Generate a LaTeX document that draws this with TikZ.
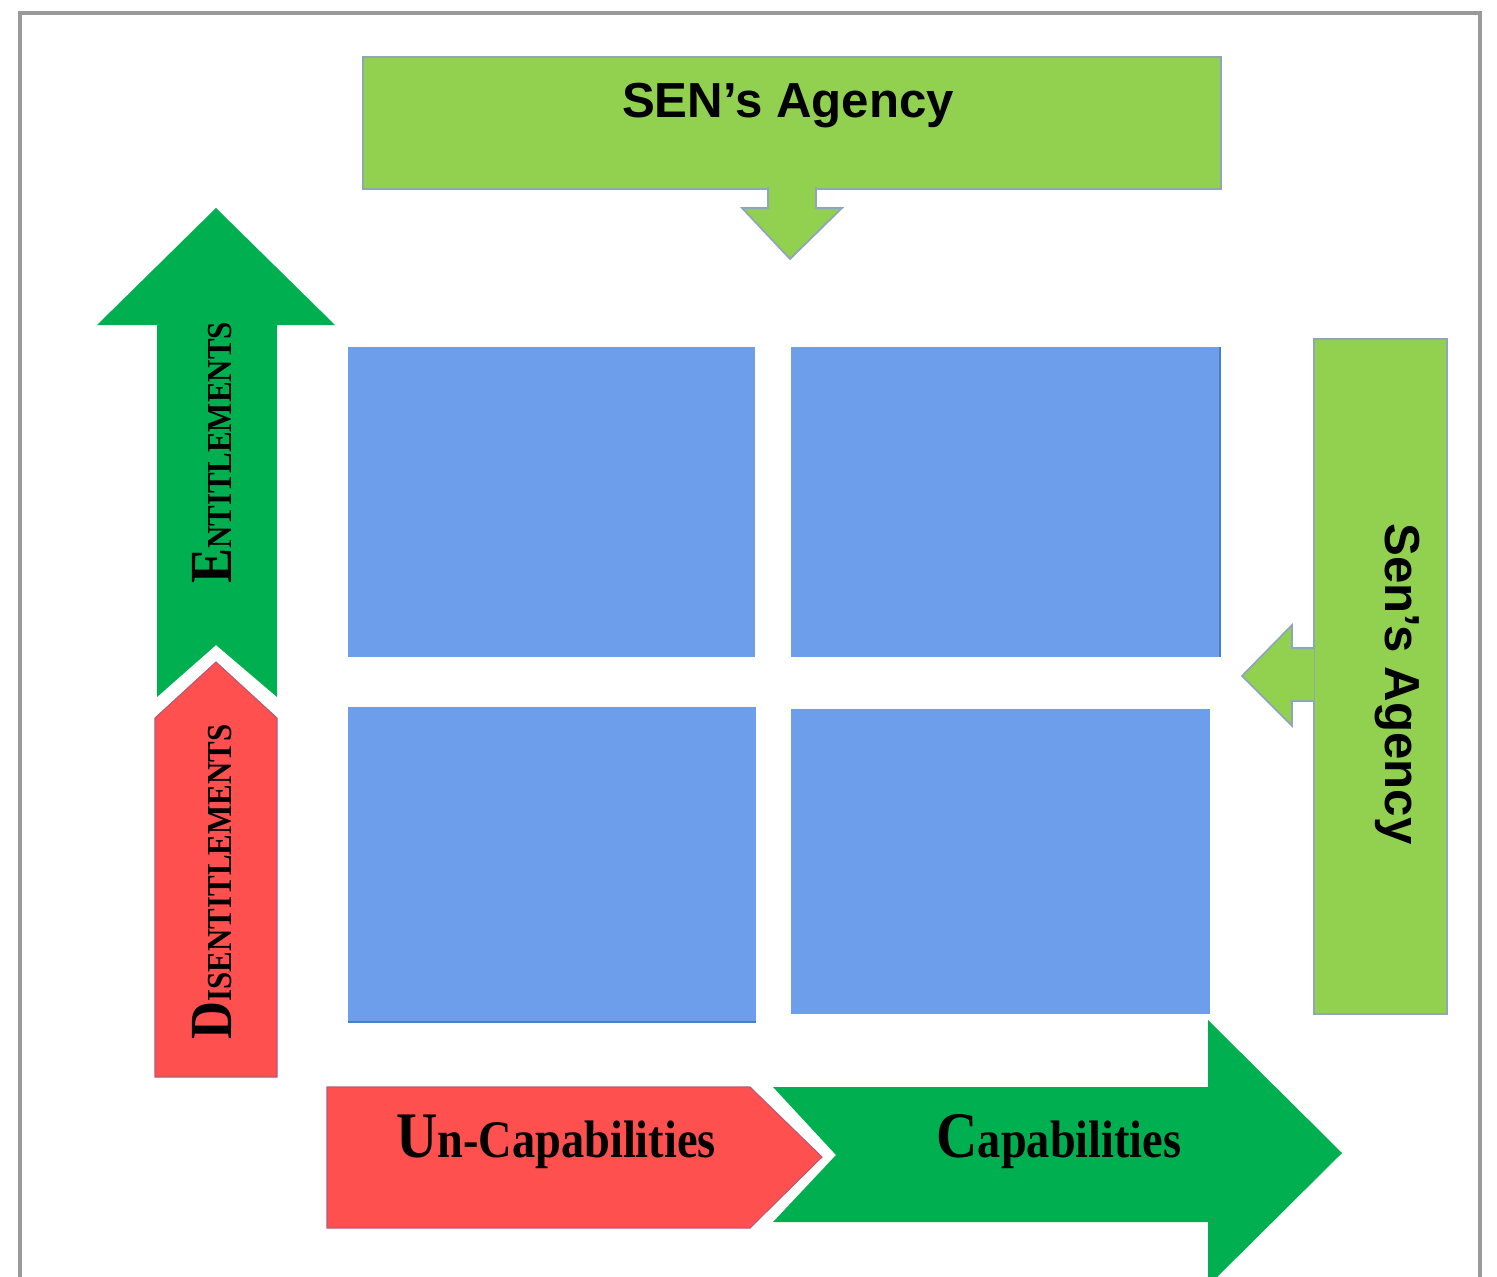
\documentclass[tikz,border=0pt]{standalone}
\usepackage{fontspec}
\setmainfont{Liberation Serif}
\newfontfamily\agencyfont{Liberation Sans}
\definecolor{leafgreen}{HTML}{92D050}
\definecolor{deepgreen}{HTML}{00B050}
\definecolor{warnred}{HTML}{FF5050}
\definecolor{cellblue}{HTML}{6D9EEB}
\definecolor{cellshade}{HTML}{4A7DCC}
\definecolor{edgegray}{HTML}{8FA6B8}
\definecolor{rededge}{HTML}{B85878}
\definecolor{framegray}{HTML}{9A9A9A}
\newcommand\leadletter[1]{{\fontsize{34}{36}\selectfont #1}}
\newcommand\smallletters[1]{{\fontsize{20}{22}\selectfont #1}}
\newcommand\bottomlead[1]{{\fontsize{37}{39}\selectfont #1}}
\newcommand\restletters[1]{{\fontsize{30}{32}\selectfont #1}}
\tikzset{
  cell/.style={rectangle,fill=cellblue,anchor=north west,inner sep=0pt,outer sep=0pt},
  agency/.style={rectangle,fill=leafgreen,draw=edgegray,line width=1pt,anchor=north west,inner sep=0pt},
  pointer/.style={fill=leafgreen,draw=edgegray,line width=1pt,line join=miter},
  redpart/.style={fill=warnred,draw=rededge,line width=0.6pt},
  agencytext/.style={font=\agencyfont\bfseries\fontsize{28}{30}\selectfont,inner sep=0pt},
  axistext/.style={font=\bfseries,inner sep=0pt},
}
\begin{document}
\begin{tikzpicture}[x=0.02cm,y=-0.02cm]
\useasboundingbox (0,0) rectangle (1497,1277);
\clip (0,0) rectangle (1497,1277);
\draw[framegray,line width=2pt] (20,1290) -- (20,13) -- (1480,13) -- (1480,1290);

\draw 	(362,56) node[agency,minimum width=17.16cm,minimum height=2.64cm](topagency){}
  		(1313,338) node[agency,minimum width=2.66cm,minimum height=13.5cm](sideagency){};
\filldraw[pointer] (768,187) -- (768,208) -- (742,208) -- (790,259) -- (842,208) -- (816,208) -- (816,187);
\filldraw[pointer] (1314,648) -- (1292,648) -- (1292,625) -- (1242,676) -- (1292,726) -- (1292,701) -- (1314,701);

\draw 	(348,347) node[cell,minimum width=8.14cm,minimum height=6.2cm](tl){}
		(791,347) node[cell,minimum width=8.58cm,minimum height=6.2cm](tr){}
		(348,707) node[cell,minimum width=8.16cm,minimum height=6.3cm](bl){}
		(791,709) node[cell,minimum width=8.38cm,minimum height=6.1cm](br){};
\draw[cellshade,line width=1.5pt] (bl.south west) -- (bl.south east);
\draw[cellshade,line width=1.5pt] (tr.north east) -- (tr.south east);
%\draw[cellshade,line width=1.5pt] (br.north west) -- (br.south west);

\fill[deepgreen] (157,697) -- (157,325) -- (97,325) -- (216,208) -- (335,325) -- (277,325) -- (277,697) -- (216,645) -- cycle;
\filldraw[redpart] (155,1077) -- (155,718) -- (216,662) -- (277,718) -- (277,1077) -- cycle;
\filldraw[redpart] (327,1087) -- (750,1087) -- (822,1157) -- (750,1228) -- (327,1228) -- cycle;
\fill[deepgreen] (773,1087) -- (1208,1087) -- (1208,1020) -- (1342,1153) -- (1208,1286) -- (1208,1222) -- (773,1222) -- (836,1155) -- cycle;

\node[agencytext](toplabel) at (788,106) {SEN’s Agency};
\node[agencytext,rotate=-90](sidelabel) at (1397,684) {Sen’s Agency};
\node[axistext,rotate=90](entlabel) at (212,453) {\scalebox{0.88}[1]{\leadletter{E}\smallletters{NTITLEMENTS}}};
\node[axistext,rotate=90](dislabel) at (212,882) {\scalebox{0.88}[1]{\leadletter{D}\smallletters{ISENTITLEMENTS}}};
\node[axistext](unlabel) at (556,1142) {\scalebox{0.88}[1]{\bottomlead{U}\restletters{n-Capabilities}}};
\node[axistext](caplabel) at (1059,1142) {\scalebox{0.88}[1]{\bottomlead{C}\restletters{apabilities}}};
\end{tikzpicture}
\end{document}
